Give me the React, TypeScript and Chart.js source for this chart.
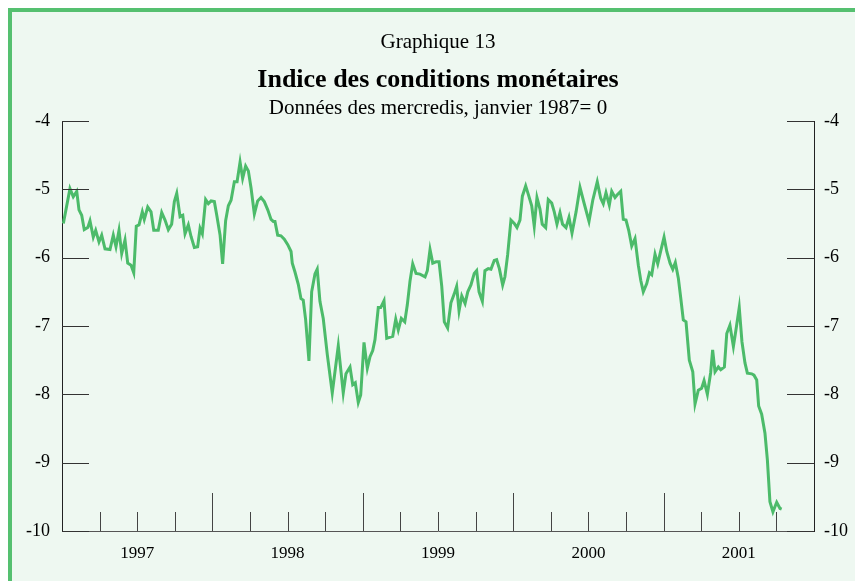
import React, { useEffect, useRef } from "react";
import { Chart, registerables } from "chart.js";

Chart.register(...registerables);

const chartTitleTop = "Graphique 13";
const chartTitle = "Indice des conditions monétaires";
const chartSubtitle = "Données des mercredis, janvier 1987= 0";

const yearLabels = ["1997", "1998", "1999", "2000", "2001"];
const yTicks = [-10, -9, -8, -7, -6, -5, -4];

// dates as decimal years
const dates = [
  1997.009, 1997.053, 1997.075, 1997.098, 1997.113, 1997.131, 1997.148, 1997.171, 1997.186, 1997.208,
  1997.224, 1997.246, 1997.264, 1997.286, 1997.319, 1997.341, 1997.359, 1997.379, 1997.397, 1997.419,
  1997.437, 1997.459, 1997.477, 1997.494, 1997.512, 1997.534, 1997.547, 1997.570, 1997.592, 1997.610,
  1997.640, 1997.663, 1997.685, 1997.707, 1997.729, 1997.747, 1997.763, 1997.785, 1997.803, 1997.818,
  1997.840, 1997.858, 1997.880, 1997.902, 1997.918, 1997.933, 1997.955, 1997.973, 1997.991, 1998.013,
  1998.029, 1998.051, 1998.068, 1998.088, 1998.106, 1998.124, 1998.146, 1998.164, 1998.184, 1998.201,
  1998.221, 1998.239, 1998.257, 1998.279, 1998.301, 1998.323, 1998.345, 1998.368, 1998.390, 1998.405,
  1998.416, 1998.434, 1998.456, 1998.478, 1998.501, 1998.523, 1998.531, 1998.549, 1998.571, 1998.589,
  1998.604, 1998.620, 1998.642, 1998.660, 1998.682, 1998.697, 1998.715, 1998.737, 1998.764, 1998.797,
  1998.837, 1998.870, 1998.888, 1998.915, 1998.933, 1998.950, 1998.970, 1998.986, 1999.008, 1999.030,
  1999.048, 1999.066, 1999.081, 1999.103, 1999.119, 1999.141, 1999.159, 1999.199, 1999.219, 1999.236,
  1999.256, 1999.279, 1999.296, 1999.314, 1999.332, 1999.354, 1999.380, 1999.414, 1999.429, 1999.447,
  1999.465, 1999.487, 1999.507, 1999.525, 1999.542, 1999.564, 1999.586, 1999.608, 1999.624, 1999.640,
  1999.658, 1999.680, 1999.698, 1999.719, 1999.741, 1999.757, 1999.773, 1999.795, 1999.812, 1999.834,
  1999.852, 1999.874, 1999.890, 1999.908, 1999.930, 1999.945, 1999.963, 1999.985, 2000.007, 2000.025,
  2000.045, 2000.061, 2000.083, 2000.100, 2000.123, 2000.140, 2000.158, 2000.178, 2000.193, 2000.216,
  2000.233, 2000.256, 2000.273, 2000.291, 2000.311, 2000.328, 2000.351, 2000.371, 2000.391, 2000.418,
  2000.444, 2000.471, 2000.504, 2000.529, 2000.559, 2000.582, 2000.599, 2000.617, 2000.639, 2000.655,
  2000.677, 2000.692, 2000.715, 2000.732, 2000.750, 2000.768, 2000.788, 2000.810, 2000.832, 2000.848,
  2000.865, 2000.888, 2000.906, 2000.921, 2000.943, 2000.961, 2000.981, 2001.003, 2001.021, 2001.043,
  2001.061, 2001.078, 2001.098, 2001.114, 2001.131, 2001.149, 2001.171, 2001.194, 2001.209, 2001.231,
  2001.253, 2001.269, 2001.291, 2001.313, 2001.326, 2001.342, 2001.364, 2001.380, 2001.404, 2001.420,
  2001.441, 2001.464, 2001.481, 2001.503, 2001.521, 2001.541, 2001.557, 2001.586, 2001.601, 2001.619,
  2001.632, 2001.652, 2001.674, 2001.690, 2001.707, 2001.727, 2001.752, 2001.774, 2001.785,
];

const mci = [
  -5.50, -4.99, -5.11, -5.03, -5.30, -5.38, -5.59, -5.56, -5.46, -5.70,
  -5.60, -5.77, -5.67, -5.87, -5.88, -5.67, -5.84, -5.60, -5.94, -5.74,
  -6.08, -6.11, -6.22, -5.54, -5.52, -5.33, -5.44, -5.26, -5.33, -5.60,
  -5.60, -5.34, -5.45, -5.59, -5.51, -5.18, -5.06, -5.40, -5.38, -5.65,
  -5.52, -5.69, -5.85, -5.84, -5.57, -5.65, -5.15, -5.21, -5.17, -5.18,
  -5.38, -5.67, -6.09, -5.46, -5.24, -5.16, -4.89, -4.89, -4.60, -4.84,
  -4.66, -4.73, -4.98, -5.36, -5.17, -5.12, -5.18, -5.30, -5.44, -5.47,
  -5.47, -5.67, -5.68, -5.73, -5.81, -5.91, -6.08, -6.21, -6.39, -6.60,
  -6.62, -6.91, -7.51, -6.50, -6.24, -6.17, -6.64, -6.89, -7.42, -7.98,
  -7.29, -7.98, -7.70, -7.60, -7.86, -7.83, -8.12, -8.01, -7.24, -7.62,
  -7.45, -7.36, -7.20, -6.73, -6.73, -6.63, -7.18, -7.15, -6.90, -7.06,
  -6.89, -6.94, -6.69, -6.34, -6.09, -6.23, -6.24, -6.28, -6.19, -5.88,
  -6.08, -6.06, -6.06, -6.42, -6.94, -7.03, -6.66, -6.53, -6.42, -6.78,
  -6.56, -6.67, -6.50, -6.40, -6.23, -6.19, -6.50, -6.64, -6.19, -6.16,
  -6.17, -6.04, -6.03, -6.16, -6.40, -6.28, -5.96, -5.45, -5.50, -5.56,
  -5.45, -5.10, -4.95, -5.07, -5.24, -5.54, -5.12, -5.29, -5.51, -5.56,
  -5.15, -5.20, -5.33, -5.51, -5.34, -5.51, -5.56, -5.41, -5.64, -5.33,
  -4.97, -5.20, -5.47, -5.16, -4.89, -5.13, -5.21, -5.05, -5.23, -5.03,
  -5.12, -5.08, -5.03, -5.44, -5.45, -5.60, -5.83, -5.72, -6.11, -6.33,
  -6.50, -6.38, -6.22, -6.25, -5.95, -6.09, -5.90, -5.70, -5.91, -6.08,
  -6.17, -6.07, -6.30, -6.59, -6.91, -6.94, -7.50, -7.67, -8.14, -7.94,
  -7.91, -7.80, -8.00, -7.68, -7.35, -7.67, -7.60, -7.64, -7.60, -7.11,
  -6.99, -7.30, -7.06, -6.73, -7.23, -7.54, -7.69, -7.70, -7.72, -7.79,
  -8.17, -8.29, -8.57, -8.96, -9.57, -9.72, -9.58, -9.67, -9.68,
];

const quarterTicks = [
  1997.25, 1997.5, 1997.75, 1998, 1998.25, 1998.5, 1998.75, 1999, 1999.25, 1999.5, 1999.75,
  2000, 2000.25, 2000.5, 2000.75, 2001, 2001.25, 2001.5, 2001.75,
];

const GREEN_LINE = "#4cbb6a";
const GREEN_BORDER = "#55c070";
const BG = "#eef8f1";
const FONT = "'Liberation Serif', 'Times New Roman', serif";

const decorPlugin = {
  id: "decor",
  afterDraw(chart: any) {
    const { ctx, chartArea, scales } = chart;
    const xs = scales.x;
    const ys = scales.y;
    const cx = (chartArea.left + chartArea.right) / 2;
    ctx.save();
    ctx.fillStyle = "#000";
    ctx.textAlign = "center";
    ctx.textBaseline = "alphabetic";
    ctx.font = `21px ${FONT}`;
    ctx.fillText(chartTitleTop, cx, 36);
    ctx.font = `bold 26px ${FONT}`;
    ctx.fillText(chartTitle, cx, 75);
    ctx.font = `21px ${FONT}`;
    ctx.fillText(chartSubtitle, cx, 102);

    ctx.lineWidth = 1;
    ctx.strokeStyle = "#333";
    yTicks.forEach((v) => {
      const py = Math.round(ys.getPixelForValue(v)) + 0.5;
      ctx.beginPath();
      ctx.moveTo(chartArea.left, py);
      ctx.lineTo(chartArea.left + 27, py);
      ctx.moveTo(chartArea.right - 27, py);
      ctx.lineTo(chartArea.right, py);
      ctx.stroke();
    });
    ctx.strokeStyle = "#444";
    quarterTicks.forEach((v) => {
      const px = Math.round(xs.getPixelForValue(v)) + 0.5;
      const isYear = Math.abs(v - Math.round(v)) < 1e-6;
      ctx.beginPath();
      ctx.moveTo(px, chartArea.bottom);
      ctx.lineTo(px, chartArea.bottom - (isYear ? 38 : 19));
      ctx.stroke();
    });
    ctx.restore();
  },
};

export default function App() {
  const ref = useRef<HTMLCanvasElement | null>(null);

  useEffect(() => {
    if (!ref.current) return;
    const points = dates.map((d, i) => ({ x: d, y: mci[i] }));
    const chart = new Chart(ref.current, {
      type: "line",
      data: {
        datasets: [
          {
            data: points,
            borderColor: GREEN_LINE,
            borderWidth: 3,
            pointRadius: 0,
            tension: 0,
            fill: false,
          },
        ],
      },
      options: {
        animation: false,
        responsive: false,
        maintainAspectRatio: false,
        layout: { padding: { left: 14, right: 7, top: 109, bottom: 10 } },
        plugins: {
          legend: { display: false },
          title: { display: false },
          tooltip: { enabled: false },
        },
        scales: {
          x: {
            type: "linear",
            min: 1997,
            max: 2002,
            afterBuildTicks: (scale: any) => {
              scale.ticks = yearLabels.map((_, i) => ({ value: 1997.5 + i }));
            },
            afterFit: (scale: any) => {
              scale.height = 40;
            },
            ticks: {
              callback: (_v: any, i: number) => yearLabels[i],
              font: { family: FONT, size: 17 },
              color: "#000",
              padding: 12,
              maxRotation: 0,
              autoSkip: false,
            },
            grid: { display: false, drawTicks: false },
            border: { display: true, color: "#555", width: 1 },
          },
          y: {
            type: "linear",
            position: "left",
            min: -10,
            max: -4,
            afterFit: (scale: any) => {
              scale.width = 36;
            },
            ticks: {
              stepSize: 1,
              font: { family: FONT, size: 18 },
              color: "#000",
              padding: 12,
            },
            grid: { display: false, drawTicks: false },
            border: { display: true, color: "#222", width: 1 },
          },
          y2: {
            type: "linear",
            position: "right",
            min: -10,
            max: -4,
            afterFit: (scale: any) => {
              scale.width = 34;
            },
            ticks: {
              stepSize: 1,
              font: { family: FONT, size: 18 },
              color: "#000",
              padding: 10,
            },
            grid: { display: false, drawTicks: false },
            border: { display: true, color: "#222", width: 1 },
          },
        },
      },
      plugins: [decorPlugin],
    });
    return () => chart.destroy();
  }, []);

  return (
    <div
      style={{
        position: "fixed",
        top: 8,
        left: 8,
        width: 843,
        height: 569,
        borderTop: `4px solid ${GREEN_BORDER}`,
        borderLeft: `4px solid ${GREEN_BORDER}`,
        background: BG,
      }}
    >
      <canvas ref={ref} width={843} height={569} style={{ display: "block" }} />
    </div>
  );
}
